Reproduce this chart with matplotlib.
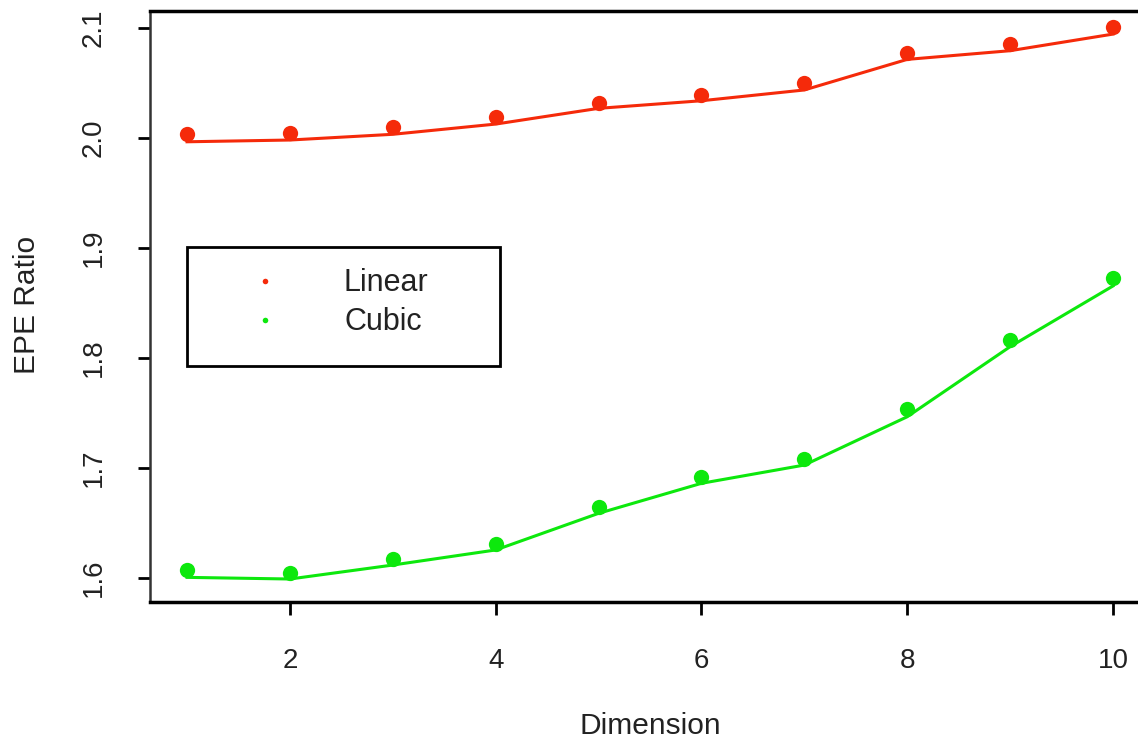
import matplotlib
matplotlib.use("Agg")
import matplotlib.pyplot as plt
from matplotlib.patches import Rectangle
from matplotlib.lines import Line2D

plt.rcParams['font.family'] = ['Liberation Sans', 'DejaVu Sans']

# EPE ratio vs. input dimension
dimension = [1, 2, 3, 4, 5, 6, 7, 8, 9, 10]
linear_points = [2.0036, 2.0048, 2.0103, 2.0188, 2.0315, 2.0391, 2.0497, 2.0770, 2.0852, 2.1006]
linear_curve = [1.9966, 1.9982, 2.0034, 2.0127, 2.0270, 2.0339, 2.0437, 2.0715, 2.0794, 2.0945]
cubic_points = [1.6073, 1.6043, 1.6170, 1.6309, 1.6643, 1.6921, 1.7079, 1.7534, 1.8164, 1.8725]
cubic_curve = [1.6006, 1.5991, 1.6118, 1.6255, 1.6588, 1.6861, 1.7027, 1.7466, 1.8103, 1.8655]
series_labels = ["Linear", "Cubic"]
x_ticks = [2, 4, 6, 8, 10]
y_ticks = [1.6, 1.7, 1.8, 1.9, 2.0, 2.1]

RED = "#f52a0a"
GREEN = "#0de80d"

W, H = 1138, 739
fig = plt.figure(figsize=(W / 100, H / 100), dpi=100)

# plot region in pixels: left 150, right 1150 (runs past the edge), top 11, bottom 602
ax = fig.add_axes([150 / W, (H - 602) / H, 1000 / W, (602 - 11) / H])
ax.set_xlim(0.64, 10.36)
ax.set_ylim(1.5782, 2.1155)

ax.plot(dimension, linear_curve, color=RED, lw=2.2, zorder=2)
ax.plot(dimension, linear_points, 'o', color=RED, ms=11, mec='none', zorder=3)
ax.plot(dimension, cubic_curve, color=GREEN, lw=2.2, zorder=2)
ax.plot(dimension, cubic_points, 'o', color=GREEN, ms=11, mec='none', zorder=3)

ax.set_xticks(x_ticks)
ax.set_xticklabels([str(t) for t in x_ticks])
ax.set_yticks(y_ticks)
ax.set_yticklabels([f"{t:.1f}" for t in y_ticks], rotation=90, va='center')

ax.tick_params(axis='both', direction='out', length=9, width=2, labelsize=20,
               colors='black', labelcolor='#222222')
ax.tick_params(axis='x', pad=24)
ax.tick_params(axis='y', pad=22)

ax.spines['top'].set_linewidth(2.5)
ax.spines['bottom'].set_linewidth(2.5)
ax.spines['left'].set_linewidth(1.8)
ax.spines['left'].set_color('#333333')
ax.spines['right'].set_linewidth(2.5)

fig.text(650 / W, 1 - 726 / H, "Dimension", fontsize=21.5, color='#222222',
         ha='center', va='center')
fig.text(27 / W, 1 - 305 / H, "EPE Ratio", fontsize=21.5, color='#222222',
         ha='center', va='center', rotation=90)

# legend box
def fx(px):
    return px / W

def fy(py):
    return 1 - py / H

fig.patches.append(Rectangle((fx(187), fy(366)), fx(500) - fx(187), fy(247) - fy(366),
                             transform=fig.transFigure, fill=False,
                             edgecolor='black', lw=2, zorder=5))
for label, color, py in zip(series_labels, [RED, GREEN], [281, 320]):
    fig.add_artist(Line2D([fx(265)], [fy(py)], marker='o', color=color, ms=4,
                          mec='none', transform=fig.transFigure))
    fig.text(fx(344), fy(py + 2), label, fontsize=22, color='#222222',
             ha='left', va='center')

fig.savefig("out.png", dpi=100, facecolor='white')
